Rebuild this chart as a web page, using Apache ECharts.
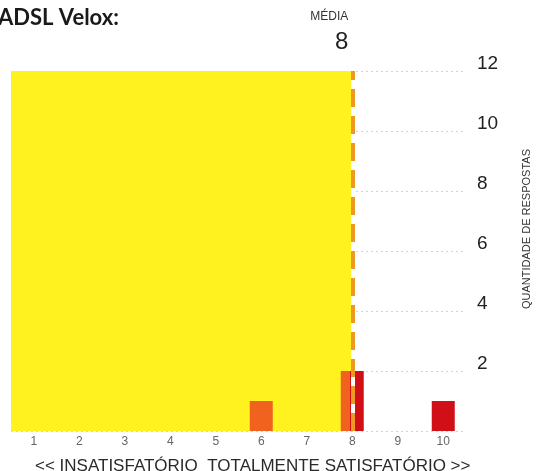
<!DOCTYPE html>
<html>
<head>
<meta charset="utf-8">
<script src="https://cdn.jsdelivr.net/npm/echarts@6/dist/echarts.min.js"></script>
<style>html,body{margin:0;padding:0;background:#fff;}#c{width:540px;height:471px;}</style>
</head>
<body>
<div id="c"></div>
<script>
var titleText = 'ADSL Velox:';
var scaleText = '<< INSATISFATÓRIO  TOTALMENTE SATISFATÓRIO >>';
var yAxisTitle = 'QUANTIDADE DE RESPOSTAS';
var meanLabel = 'MÉDIA';
var categories = ['1','2','3','4','5','6','7','8','9','10'];
var counts = [0, 0, 0, 0, 0, 1, 0, 2, 0, 1];
var meanValue = 8;
var yMax = 12;

var YELLOW = '#FFF21E', ORANGE = '#F0621E', RED = '#D00F16', LINE = '#EE9A22';

var barData = counts.map(function (v, i) {
  var x = i + 1;
  var color;
  if (x < meanValue) color = ORANGE;
  else if (x > meanValue) color = RED;
  else color = new echarts.graphic.LinearGradient(0, 0, 1, 0, [
    {offset: 0, color: ORANGE}, {offset: 0.42, color: ORANGE},
    {offset: 0.42, color: RED}, {offset: 1, color: RED}]);
  return {value: v, itemStyle: {color: color}};
});

var chart = echarts.init(document.getElementById('c'), null, {renderer: 'canvas'});
chart.setOption({
  animation: false,
  backgroundColor: '#fff',
  title: [
    {text: titleText, left: -7, top: 2,
     textStyle: {fontFamily: 'Lato', fontWeight: 'bold', fontSize: 22, color: '#1a1a1a'}},
    {text: scaleText, left: 30, top: 453,
     textStyle: {fontFamily: 'Liberation Sans', fontWeight: 'normal', fontSize: 17, color: '#2a2a2a'}}
  ],
  grid: {left: 11, right: 73, top: 71, bottom: 40},
  xAxis: [
    {type: 'category', data: categories, boundaryGap: true,
     axisLine: {show: false}, axisTick: {show: false},
     axisLabel: {color: '#666', fontSize: 12, fontFamily: 'Liberation Sans', margin: 5}},
    {type: 'value', min: 0.5, max: 10.5, show: false}
  ],
  yAxis: {
    type: 'value', position: 'right', min: 0, max: yMax, interval: 2,
    axisLine: {show: false}, axisTick: {show: false},
    axisLabel: {color: '#222', fontSize: 19, fontFamily: 'Liberation Sans', margin: 11,
      verticalAlign: 'bottom', lineHeight: 14,
      formatter: function (v) { return v === 0 ? '' : String(v); }},
    splitLine: {show: true, lineStyle: {color: '#d4d4d4', width: 1, type: [2, 3]}},
    name: yAxisTitle, nameLocation: 'middle', nameGap: 55,
    nameTextStyle: {color: '#333', fontSize: 11, fontFamily: 'Liberation Sans', padding: [0, 0, 0, 44]}
  },
  series: [
    {
      type: 'line', xAxisIndex: 1, z: 1, data: [[meanValue, 0]], showSymbol: false, symbol: 'none',
      lineStyle: {opacity: 0}, silent: true,
      markArea: {silent: true, itemStyle: {color: YELLOW},
        data: [[{coord: [0.5, 0]}, {coord: [meanValue, yMax]}]]}
    },
    {
      type: 'bar', xAxisIndex: 0, z: 3, data: barData, barWidth: 23
    },
    {
      type: 'line', xAxisIndex: 1, z: 5, data: [[meanValue, 0]], showSymbol: false, symbol: 'none',
      lineStyle: {opacity: 0}, silent: true,
      markLine: {silent: true, symbol: 'none',
        data: [
          [{coord: [meanValue, 0], lineStyle: {color: '#fff', type: 'solid', width: 4}, label: {show: false}},
           {coord: [meanValue, yMax]}],
          [{coord: [meanValue, 0], lineStyle: {color: LINE, type: [18, 9], width: 4},
            label: {show: true, position: 'end', distance: 16, offset: [-23, 0],
              formatter: '{a|' + meanLabel + '}\n{b|' + meanValue + '}',
              rich: {a: {fontSize: 12, color: '#333', fontFamily: 'Liberation Sans', align: 'center', lineHeight: 24},
                     b: {fontSize: 24, color: '#222', fontFamily: 'Liberation Sans', align: 'right', lineHeight: 26}}}},
           {coord: [meanValue, yMax]}]
        ]}
    }
  ]
});
</script>
</body>
</html>
